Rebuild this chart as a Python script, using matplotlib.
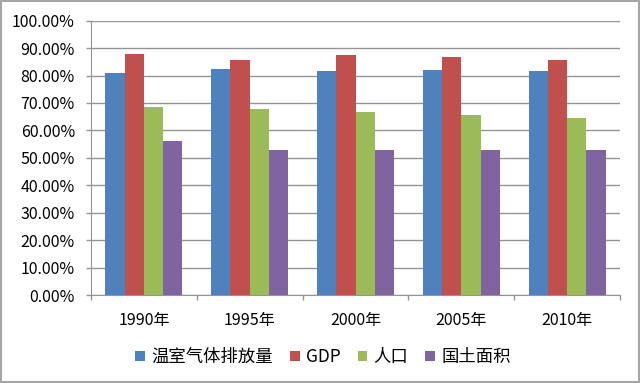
import numpy as np
import matplotlib
matplotlib.use("Agg")
import matplotlib.pyplot as plt
from matplotlib.patches import Rectangle
from matplotlib.ticker import FuncFormatter, FixedLocator, NullFormatter

plt.rcParams['font.family'] = ['Noto Sans CJK SC', 'DejaVu Sans']

years = ["1990年", "1995年", "2000年", "2005年", "2010年"]
series_names = ["温室气体排放量", "GDP", "人口", "国土面积"]
ghg = [80.9, 82.4, 81.5, 81.9, 81.5]
gdp = [87.7, 85.8, 87.5, 86.6, 85.7]
population = [68.6, 67.7, 66.6, 65.6, 64.6]
land = [56.1, 52.9, 52.9, 52.9, 52.8]
colors = ["#4F81BD", "#C0504D", "#9BBB59", "#8064A2"]

fig = plt.figure(figsize=(6.4, 3.83), dpi=100)
ax = fig.add_axes([91 / 640, 1 - 295 / 383, 529 / 640, 274.3 / 383])

x = np.arange(len(years))
bar_w = 0.182
for i, (vals, c, name) in enumerate(zip([ghg, gdp, population, land], colors, series_names)):
    ax.bar(x + (i - 1.5) * bar_w, np.array(vals) / 100, width=bar_w, color=c,
           label=name, zorder=3)

ax.set_xlim(-0.5, len(years) - 0.5)
ax.set_ylim(0, 1)
ax.set_yticks(np.arange(0, 1.01, 0.1))
ax.yaxis.set_major_formatter(FuncFormatter(lambda v, p: f"{v * 100:.2f}%"))
ax.grid(axis="y", color="#949494", linewidth=1, zorder=0)

# category labels in the middle, tick marks on the boundaries
ax.set_xticks(x)
ax.set_xticklabels(years)
ax.tick_params(axis="x", which="major", length=0, pad=12, labelsize=11.5)
ax.xaxis.set_minor_locator(FixedLocator(np.arange(-0.5, len(years), 1)))
ax.xaxis.set_minor_formatter(NullFormatter())
ax.tick_params(axis="x", which="minor", length=3.6, color="#949494", width=1)
ax.tick_params(axis="y", length=3.6, color="#949494", width=1, labelsize=11.5, pad=8)

for s in ["top", "right"]:
    ax.spines[s].set_visible(False)
for s in ["left", "bottom"]:
    ax.spines[s].set_color("#949494")

leg = fig.legend(loc="center", bbox_to_anchor=(323 / 640, 1 - 357 / 383), ncol=4,
                 frameon=False, fontsize=12.5, handlelength=0.55, handleheight=0.55,
                 handletextpad=0.35, columnspacing=1.0)

# outer chart border
fig.patches.append(Rectangle((0.002, 0.003), 0.996, 0.994, transform=fig.transFigure,
                             fill=False, edgecolor="#a6a6a6", linewidth=1.5))

fig.savefig("out.png", dpi=100)
